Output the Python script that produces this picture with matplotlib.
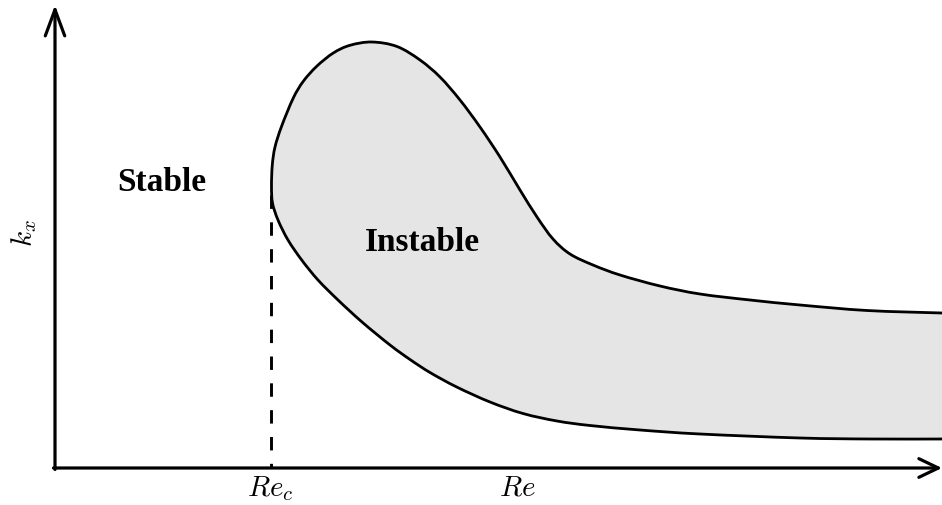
import matplotlib
matplotlib.use("Agg")
import matplotlib.pyplot as plt
from matplotlib.path import Path
from matplotlib.patches import PathPatch
import numpy as np

plt.rcParams['mathtext.fontset'] = 'cm'

# Neutral-stability curve (x = Re, y = k_x, in image units, y downward)
upper_re = [942, 867, 800, 750, 700, 660, 620, 593, 570, 553, 537, 520, 500, 480,
            460, 440, 420, 397, 372, 350, 333.3, 316.7, 303.3, 293.3, 281.7, 275, 272.3]
upper_kx = [313, 310.5, 305, 300, 294, 286, 275, 265, 254, 239, 217, 190, 157, 127,
            100, 77, 60, 46.5, 42, 45.3, 53, 66.3, 81.3, 98, 126, 147, 165]
lower_re = [271.5, 272.5, 278, 288, 301.7, 318, 338, 362, 390, 410, 430, 456.7, 490,
            523, 557, 590, 640, 700, 800, 870, 942]
lower_kx = [186, 203, 220, 240, 260, 280, 300, 322, 345, 359.5, 372.5, 387, 402,
            413.5, 421, 425.5, 430, 434, 438, 439, 439]

re_c = 271
re_c_kx_top = 195

labels_region = ["Stable", "Instable"]
label_re = [162, 422]
label_kx = [191, 251]


def smooth_path(x, y, closed=False):
    """Catmull-Rom curve through the given points, as cubic Bezier segments."""
    p = np.column_stack([x, y]).astype(float)
    n = len(p)
    ext = np.vstack([p[0], p, p[-1]])
    verts = [p[0]]
    codes = [Path.MOVETO]
    for i in range(n - 1):
        p0, p1, p2, p3 = ext[i], ext[i + 1], ext[i + 2], ext[i + 3]
        c1 = p1 + (p2 - p0) / 6.0
        c2 = p2 - (p3 - p1) / 6.0
        verts += [c1, c2, p2]
        codes += [Path.CURVE4] * 3
    if closed:
        verts.append(p[0])
        codes.append(Path.CLOSEPOLY)
    return Path(np.array(verts), codes)


fig = plt.figure(figsize=(9.42, 5.05), dpi=100)
ax = fig.add_axes([0, 0, 1, 1])
ax.set_xlim(0, 942)
ax.set_ylim(505, 0)
ax.axis('off')

cx = upper_re + lower_re
cy = upper_kx + lower_kx
ax.add_patch(PathPatch(smooth_path(cx, cy, closed=True), facecolor='#e5e5e5',
                       edgecolor='none', zorder=1))
ax.add_patch(PathPatch(smooth_path(cx, cy), facecolor='none', edgecolor='black',
                       lw=2.0, joinstyle='round', capstyle='round', zorder=3))

# dashed line at Re_c
ax.plot([re_c, re_c], [re_c_kx_top, 468], color='black', lw=2.1,
        dashes=(4.6, 4.6), zorder=2)

# axes with arrows
ax0x, ax0y = 55, 468
ax.annotate('', xy=(ax0x, 5), xytext=(ax0x, ax0y + 1.5),
            arrowprops=dict(arrowstyle='->,head_length=1.35,head_width=0.5',
                            lw=2.3, color='black', mutation_scale=14,
                            shrinkA=0, shrinkB=0))
ax.annotate('', xy=(942, ax0y), xytext=(ax0x - 1.5, ax0y),
            arrowprops=dict(arrowstyle='->,head_length=1.0,head_width=0.48',
                            lw=2.3, color='black', mutation_scale=14,
                            shrinkA=0, shrinkB=0))

for t, x, y in zip(labels_region, label_re, label_kx):
    ax.text(x, y, t, fontsize=24, fontweight='bold', family='Liberation Serif',
            ha='center', va='baseline', zorder=4)

ax.text(re_c - 1, 496, r'$Re_c$', fontsize=21, ha='center', va='baseline')
ax.text(517, 496, r'$Re$', fontsize=21, ha='center', va='baseline')
ax.text(24, 233, r'$k_x$', fontsize=21, rotation=90, ha='center', va='center')

fig.savefig('out.png', dpi=100)
